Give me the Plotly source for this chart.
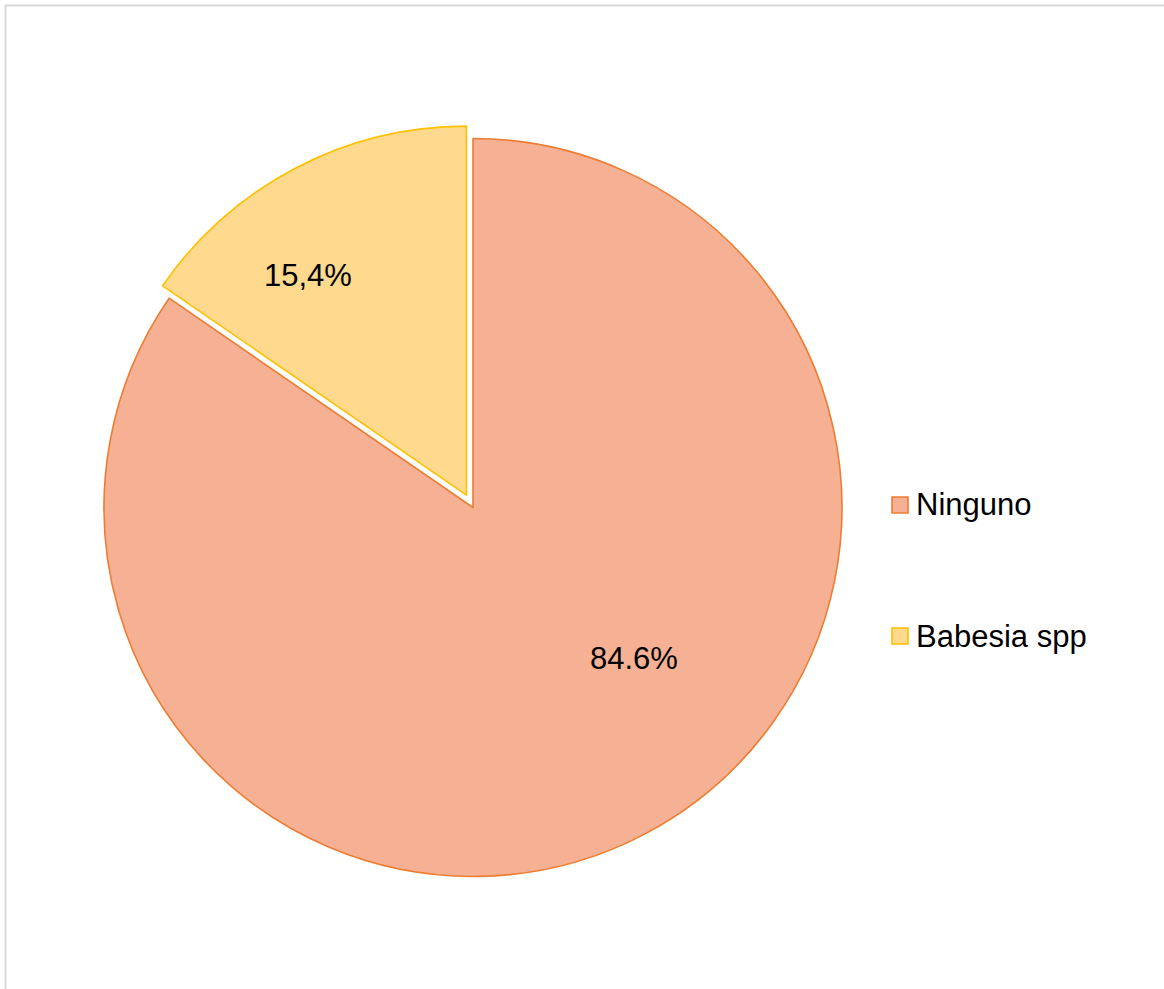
import plotly.graph_objects as go

# Share of samples by parasite found
categories = ["Ninguno", "Babesia spp"]
shares = [84.6, 15.4]
share_labels = ["84.6%", "15,4%"]

fill_colors = ["#F6B194", "#FED98E"]
edge_colors = ["#ED7D31", "#FFC000"]
pulls = [0, 0.038]

W, H = 1164, 989
FONT = "Liberation Sans, Arial, sans-serif"
FONT_SIZE = 31

fig = go.Figure(
    go.Pie(
        labels=categories,
        values=shares,
        sort=False,
        direction="clockwise",
        rotation=0,
        pull=pulls,
        textinfo="none",
        hoverinfo="label+percent",
        marker=dict(colors=fill_colors, line=dict(color=edge_colors, width=1.6)),
        domain=dict(x=[0.0773, 0.7354], y=[0.0996, 0.8741]),
        showlegend=False,
    )
)

# slice percentage labels
label_pos = [(0.5447, 0.3337), (0.2642, 0.7219)]
annotations = []
for txt, (x, y) in zip(share_labels, label_pos):
    annotations.append(dict(
        x=x, y=y, xref="paper", yref="paper", text=txt, showarrow=False,
        xanchor="center", yanchor="middle",
        font=dict(family=FONT, size=FONT_SIZE, color="#000000"),
    ))

# legend drawn on the right side
shapes = []
legend_rows = [505 / H, 636 / H]
for name, fc, ec, yc in zip(categories, fill_colors, edge_colors, legend_rows):
    y = 1 - yc
    shapes.append(dict(
        type="rect", xref="paper", yref="paper",
        x0=892 / W, x1=908 / W, y0=y - 8 / H, y1=y + 8 / H,
        fillcolor=fc, line=dict(color=ec, width=1.6),
    ))
    annotations.append(dict(
        x=914 / W, y=y, xref="paper", yref="paper", text=name, showarrow=False,
        xanchor="left", yanchor="middle",
        font=dict(family=FONT, size=FONT_SIZE, color="#000000"),
    ))

# chart-area frame
shapes.append(dict(
    type="rect", xref="paper", yref="paper",
    x0=5.5 / W, x1=1.02, y0=-0.02, y1=1 - 5.5 / H,
    line=dict(color="#D9D9D9", width=2), fillcolor="rgba(0,0,0,0)",
    layer="below",
))

fig.update_layout(
    width=W, height=H,
    margin=dict(l=0, r=0, t=0, b=0),
    paper_bgcolor="#FFFFFF",
    plot_bgcolor="#FFFFFF",
    annotations=annotations,
    shapes=shapes,
)

fig.write_html("out.html")
